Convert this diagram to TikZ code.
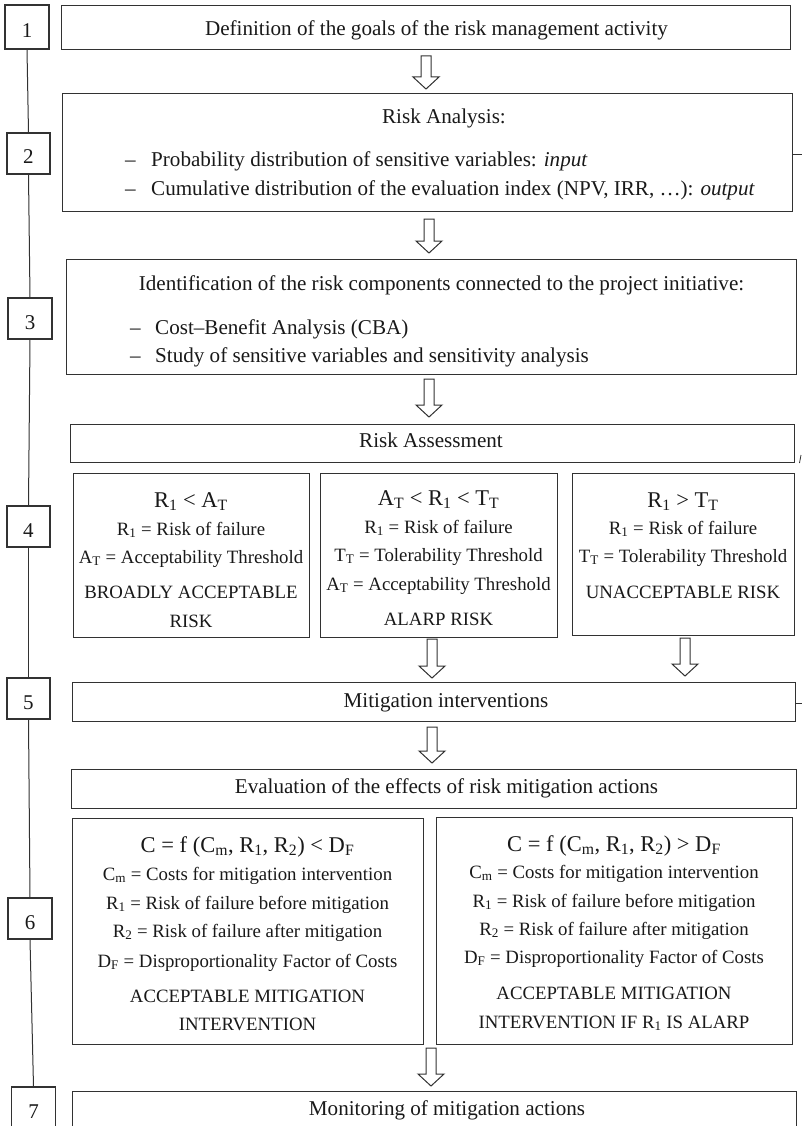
\documentclass[tikz,border=0pt]{standalone}
\usepackage{fontspec}
\setmainfont{Liberation Serif}
\usetikzlibrary{calc}
\definecolor{ln}{RGB}{50,50,50}
\definecolor{tx}{RGB}{25,25,25}
\tikzset{
 box/.style={draw=ln, line width=1.2pt, inner sep=0pt, anchor=north west},
 num/.style={draw=ln, line width=1.1pt, minimum width=43pt, minimum height=41pt, inner sep=0pt, text height=21pt, text depth=0pt, font=\fontsize{21}{24}\selectfont, text=tx},
 main/.style={anchor=base, inner sep=0pt, font=\fontsize{21.1}{25}\selectfont, text=tx},
 subl/.style={anchor=base, inner sep=0pt, font=\fontsize{18.8}{22}\selectfont, text=tx},
 big/.style={anchor=base, inner sep=0pt, font=\fontsize{22.5}{26}\selectfont, text=tx},
 bl/.style={anchor=base west, inner sep=0pt, font=\fontsize{21.1}{25}\selectfont, text=tx},
 link/.style={draw=ln, line width=1pt},
 blockarrow/.style={draw=ln, line width=1pt, fill=white,
   to path={let \p1=(\tikztostart), \p2=(\tikztotarget) in
   (\x1-5pt,\y1) -- (\x1-5pt,\y2+12pt) -- (\x1-13pt,\y2+12pt) -- (\x1,\y2)
   -- (\x1+13pt,\y2+12pt) -- (\x1+5pt,\y2+12pt) -- (\x1+5pt,\y1) -- cycle}}
}
\newcommand{\sbs}[1]{\textsubscript{#1}}
\begin{document}
\begin{tikzpicture}[x=1pt,y=-1pt]
\useasboundingbox (0,0) rectangle (802,1126);
\clip (0,0) rectangle (802,1126);
\fill[white] (0,0) rectangle (802,1126);

% step number boxes
\node[num, minimum width=44pt, minimum height=44pt] (s1) at (27,27) {1};
\node[num] (s2) at (28.5,153.5) {2};
\node[num, minimum width=44pt] (s3) at (30,318.5) {3};
\node[num] (s4) at (28.5,526.5) {4};
\node[num] (s5) at (28.5,698.5) {5};
\node[num, minimum width=44pt] (s6) at (30,918.5) {6};
\node[num, minimum width=44pt, minimum height=42pt] (s7) at (33.5,1108) {7};
\draw[link] (s1.south) -- (s2.north);
\draw[link] (s2.south) -- (s3.north);
\draw[link] (s3.south) -- (s4.north);
\draw[link] (s4.south) -- (s5.north);
\draw[link] (s5.south) -- (s6.north);
\draw[link] (s6.south) -- (s7.north);

% main boxes
\node[box, minimum width=729pt, minimum height=44pt] (A) at (61,5) {};
\node[box, minimum width=730pt, minimum height=118pt] (B) at (62,93) {};
\node[box, minimum width=730pt, minimum height=115pt] (C) at (66,259) {};
\node[box, minimum width=724pt, minimum height=38pt] (D) at (70,424) {};
\node[box, minimum width=236pt, minimum height=164pt] (D1) at (73,473) {};
\node[box, minimum width=237pt, minimum height=164pt] (D2) at (320,473) {};
\node[box, minimum width=222pt, minimum height=162pt] (D3) at (572,473) {};
\node[box, minimum width=723pt, minimum height=39pt] (E) at (72,682) {};
\node[box, minimum width=725pt, minimum height=39pt] (F) at (71,769) {};
\node[box, minimum width=351pt, minimum height=226pt] (F1) at (72,818) {};
\node[box, minimum width=356pt, minimum height=227pt] (F2) at (436,817) {};
\node[box, minimum width=724pt, minimum height=60pt] (G) at (72,1091) {};

% texts
\node[main] (tA) at (436.5,36) {Definition of the goals of the risk management activity};
\node[main] (tB) at (444,124) {Risk Analysis:};
\node[bl] (tB1) at (125,167) {\makebox[26pt][l]{--}Probability distribution of sensitive variables: \textit{input}};
\node[bl] (tB2) at (125,195) {\makebox[26pt][l]{--}Cumulative distribution of the evaluation index (NPV, IRR, …): \textit{output}};
\node[main] (tC) at (441.5,290) {Identification of the risk components connected to the project initiative:};
\node[bl] (tC1) at (130,334) {\makebox[25pt][l]{--}Cost--Benefit Analysis (CBA)};
\node[bl] (tC2) at (130,362) {\makebox[25pt][l]{--}Study of sensitive variables and sensitivity analysis};
\node[main] (tD) at (431,447) {Risk Assessment};

\node[big] (d1a) at (191,507) {R\sbs{1} < A\sbs{T}};
\node[subl] (d1b) at (191,535) {R\sbs{1} = Risk of failure};
\node[subl] (d1c) at (191,563) {A\sbs{T} = Acceptability Threshold};
\node[subl] (d1d) at (191,598) {BROADLY ACCEPTABLE};
\node[subl] (d1e) at (191,627) {RISK};

\node[big] (d2a) at (438.5,505) {A\sbs{T} < R\sbs{1} < T\sbs{T}};
\node[subl] (d2b) at (438.5,533) {R\sbs{1} = Risk of failure};
\node[subl] (d2c) at (438.5,561) {T\sbs{T} = Tolerability Threshold};
\node[subl] (d2d) at (438.5,590) {A\sbs{T} = Acceptability Threshold};
\node[subl] (d2e) at (438.5,625) {ALARP RISK};

\node[big] (d3a) at (683,507) {R\sbs{1} > T\sbs{T}};
\node[subl] (d3b) at (683,534) {R\sbs{1} = Risk of failure};
\node[subl] (d3c) at (683,562) {T\sbs{T} = Tolerability Threshold};
\node[subl] (d3d) at (683,598) {UNACCEPTABLE RISK};

\node[main] (tE) at (446,707) {Mitigation interventions};
\node[main] (tF) at (446.5,793) {Evaluation of the effects of risk mitigation actions};

\node[big] (f1a) at (247.5,852) {C = f (C\sbs{m}, R\sbs{1}, R\sbs{2}) < D\sbs{F}};
\node[subl] (f1b) at (247.5,880) {C\sbs{m} = Costs for mitigation intervention};
\node[subl] (f1c) at (247.5,909) {R\sbs{1} = Risk of failure before mitigation};
\node[subl] (f1d) at (247.5,937) {R\sbs{2} = Risk of failure after mitigation};
\node[subl] (f1e) at (247.5,967) {D\sbs{F} = Disproportionality Factor of Costs};
\node[subl] (f1f) at (247.5,1002) {ACCEPTABLE MITIGATION};
\node[subl] (f1g) at (247.5,1030) {INTERVENTION};

\node[big] (f2a) at (614,851) {C = f (C\sbs{m}, R\sbs{1}, R\sbs{2}) > D\sbs{F}};
\node[subl] (f2b) at (614,878) {C\sbs{m} = Costs for mitigation intervention};
\node[subl] (f2c) at (614,907) {R\sbs{1} = Risk of failure before mitigation};
\node[subl] (f2d) at (614,935) {R\sbs{2} = Risk of failure after mitigation};
\node[subl] (f2e) at (614,963) {D\sbs{F} = Disproportionality Factor of Costs};
\node[subl] (f2f) at (614,999) {ACCEPTABLE MITIGATION};
\node[subl] (f2g) at (614,1028) {INTERVENTION IF R\sbs{1} IS ALARP};

\node[main] (tG) at (447,1115) {Monitoring of mitigation actions};

% block arrows
\coordinate (a1s) at (426,56);  \coordinate (a1e) at (426,89);
\coordinate (a2s) at (429,219); \coordinate (a2e) at (429,253);
\coordinate (a3s) at (429,379); \coordinate (a3e) at (429,417);
\coordinate (a4s) at (432,639); \coordinate (a4e) at (432,678);
\coordinate (a5s) at (685,638); \coordinate (a5e) at (685,676);
\coordinate (a6s) at (432,727); \coordinate (a6e) at (432,763);
\coordinate (a7s) at (431,1048); \coordinate (a7e) at (431,1086);
\draw[blockarrow] (a1s) to (a1e);
\draw[blockarrow] (a2s) to (a2e);
\draw[blockarrow] (a3s) to (a3e);
\draw[blockarrow] (a4s) to (a4e);
\draw[blockarrow] (a5s) to (a5e);
\draw[blockarrow] (a6s) to (a6e);
\draw[blockarrow] (a7s) to (a7e);

% cropped stubs at the right edge
\coordinate (st1) at (802,155);
\coordinate (st2) at (802,703);
\draw[link] (B.east |- st1) -- (st1);
\draw[link] (E.east |- st2) -- (st2);
\coordinate (st3a) at (801,455);
\coordinate (st3b) at (799.5,463);
\draw[draw=ln, line width=0.8pt] (st3a) -- (st3b);
\end{tikzpicture}
\end{document}
